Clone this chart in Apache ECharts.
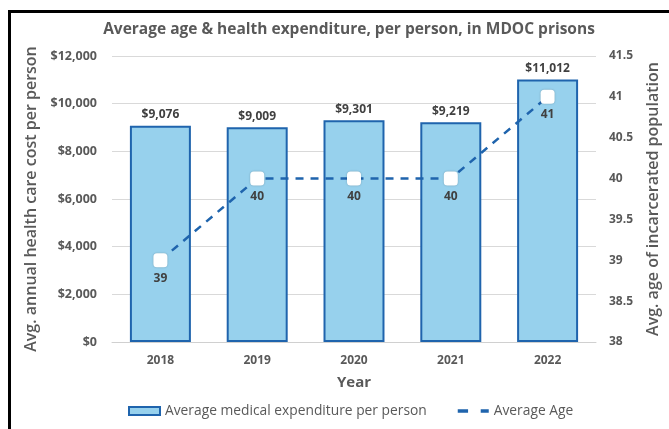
<!DOCTYPE html>
<html><head><meta charset="utf-8">
<script src="https://cdn.jsdelivr.net/npm/echarts@6/dist/echarts.min.js"></script>
<style>html,body{margin:0;padding:0;background:#fff}#c{width:669px;height:429px}</style>
</head><body><div id="c"></div>
<script>
const years = ['2018','2019','2020','2021','2022'];
const expenditure = [9076, 9009, 9301, 9219, 11012];
const avgAge = [39, 40, 40, 40, 41];
const leftTicks = [0, 12000, 2000];
const rightTicks = [38, 41.5, 0.5];

const FONT = 'Open Sans';
const GREY = '#595959';
const BLUE = '#1f64ad';
const chart = echarts.init(document.getElementById('c'), null, {renderer:'canvas'});
chart.setOption({
  animation: false,
  textStyle: {fontFamily: FONT},
  title: {text: 'Average age & health expenditure, per person, in MDOC prisons', left: 344, top: 17, textAlign: 'center',
    textStyle: {fontFamily: FONT, fontSize: 15.5, fontWeight: 'bold', color: GREY}},
  graphic: [{type:'rect', shape:{x:9.5, y:11.5, width:800, height:600}, style:{fill:'none', stroke:'#000', lineWidth:3}, silent:true}],
  grid: {left: 112, right: 68, top: 56, bottom: 87},
  legend: {bottom: 6, left: 123, itemWidth: 31, itemHeight: 8, itemGap: 31,
    textStyle: {fontFamily: FONT, fontSize: 13.8, color: GREY},
    data: [
      {name: 'Average medical expenditure per person', icon: 'rect'},
      {name: 'Average Age', icon: 'path://M0 0H9V3H0Z M20 0H27V3H20Z', itemStyle: {color: BLUE, borderWidth: 0}}
    ]},
  xAxis: {type: 'category', data: years, name: 'Year', nameLocation: 'middle', nameGap: 33,
    nameTextStyle: {fontFamily: FONT, fontSize: 15, fontWeight: 'bold', color: GREY},
    axisLine: {lineStyle: {color: '#d0d0d0', width: 1}}, axisTick: {show: false},
    axisLabel: {fontFamily: FONT, fontSize: 12, fontWeight: 'bold', color: GREY, margin: 13}},
  yAxis: [
    {type: 'value', min: leftTicks[0], max: leftTicks[1], interval: leftTicks[2],
     name: 'Avg. annual health care cost per person', nameLocation: 'middle', nameGap: 70,
     nameTextStyle: {fontFamily: FONT, fontSize: 16, fontWeight: 600, color: GREY},
     axisLabel: {fontFamily: FONT, fontSize: 12.5, fontWeight: 'bold', color: GREY, margin: 15,
       formatter: v => '$' + v.toLocaleString('en-US')},
     splitLine: {lineStyle: {color: '#d9d9d9'}}, axisLine: {show: false}, axisTick: {show: false}},
    {type: 'value', min: rightTicks[0], max: rightTicks[1], interval: rightTicks[2],
     name: 'Avg. age of incarcerated population', nameLocation: 'middle', nameGap: 49,
     nameTextStyle: {fontFamily: FONT, fontSize: 16, fontWeight: 600, color: GREY},
     axisLabel: {fontFamily: FONT, fontSize: 12, fontWeight: 'bold', color: GREY, margin: 13},
     splitLine: {show: false}, axisLine: {show: false}, axisTick: {show: false}}
  ],
  series: [
    {name: 'Average medical expenditure per person', type: 'bar', data: expenditure, barWidth: '63%',
     itemStyle: {color: '#97d1ed', borderColor: BLUE, borderWidth: 2},
     label: {show: true, position: 'top', distance: 5, fontFamily: FONT, fontSize: 12, fontWeight: 'bold', color: '#404040',
       formatter: p => '$' + p.value.toLocaleString('en-US')}},
    {name: 'Average Age', type: 'line', yAxisIndex: 1, data: avgAge, symbol: 'roundRect', symbolSize: 14,
     itemStyle: {color: '#ffffff', shadowBlur: 2, shadowColor: 'rgba(0,0,0,0.25)'},
     lineStyle: {color: BLUE, width: 2.5, type: [8, 7]},
     label: {show: true, position: 'bottom', distance: 5, fontFamily: FONT, fontSize: 12, fontWeight: 'bold', color: '#404040'}}
  ]
});
</script></body></html>
